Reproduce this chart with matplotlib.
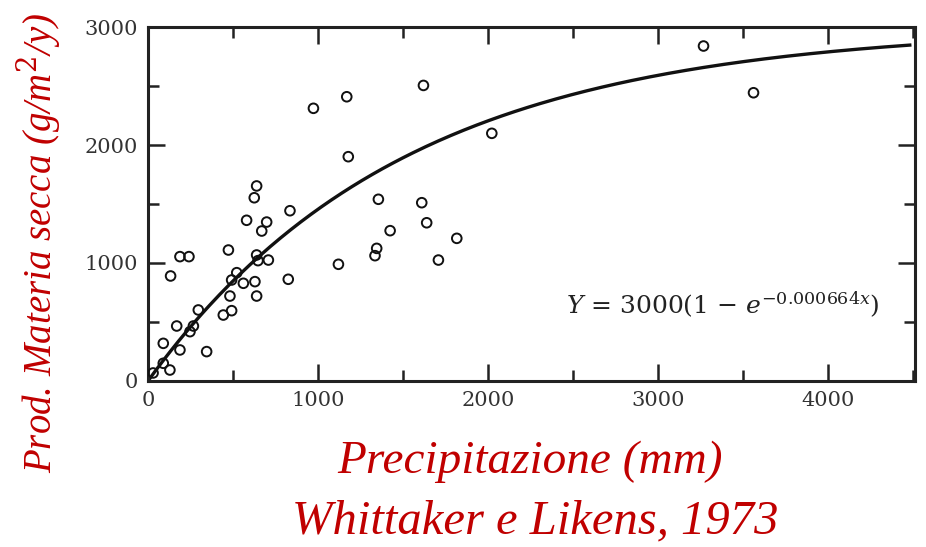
import numpy as np
import matplotlib
matplotlib.use('Agg')
import matplotlib.pyplot as plt

# precipitazione (mm) vs produzione (g/m2/y)
precip = [1620, 1169, 973, 2022, 1178, 639, 625, 835, 1355, 1610,
          580, 698, 669, 1639, 1424, 1816, 1345, 1335, 473, 188,
          241, 1120, 1708, 639, 708, 647, 133, 825, 522, 492,
          561, 629, 639, 482, 443, 492, 296, 169, 267, 247,
          345, 90, 188, 90, 129, 30, 3267, 3561]
prod = [2505, 2409, 2311, 2099, 1901, 1653, 1553, 1443, 1540, 1511,
        1362, 1347, 1271, 1341, 1274, 1209, 1124, 1062, 1110, 1054,
        1054, 989, 1025, 1068, 1025, 1020, 890, 862, 918, 856,
        828, 842, 720, 720, 559, 596, 602, 466, 466, 418,
        249, 319, 263, 150, 93, 68, 2839, 2443]

a_max = 3000
k = 0.000664
x_ticks = [0, 1000, 2000, 3000, 4000]
y_ticks = [0, 1000, 2000, 3000]

red = '#c00000'
plt.rcParams['mathtext.fontset'] = 'dejavuserif'

fig = plt.figure(figsize=(9.26, 5.47), dpi=100)
ax = fig.add_axes([0.1598, 0.3035, 0.8282, 0.6471])

ax.scatter(precip, prod, s=48, facecolors='none', edgecolors='#111111', linewidths=1.4, zorder=3)

xc = np.linspace(0, 4480, 300)
ax.plot(xc, a_max * (1 - np.exp(-k * xc)), color='#111111', lw=2.4)

ax.set_xlim(0, 4510)
ax.set_ylim(0, 3000)
ax.set_xticks(x_ticks)
ax.set_yticks(y_ticks)
ax.set_xticks(np.arange(0, 4501, 500), minor=True)
ax.set_yticks(np.arange(0, 3001, 500), minor=True)
ax.tick_params(which='both', direction='in', top=True, right=True, width=1.8, color='#222222')
ax.tick_params(which='major', length=12, labelsize=15, labelcolor='#333333', pad=7)
ax.tick_params(which='minor', length=8)
for lab in ax.get_xticklabels() + ax.get_yticklabels():
    lab.set_fontfamily('DejaVu Serif')
for s in ax.spines.values():
    s.set_linewidth(2.2)
    s.set_color('#222222')

ax.text(0.954, 0.215, r'$Y$ = 3000(1 $-$ $e^{-0.000664x}$)', transform=ax.transAxes,
        ha='right', va='center', fontsize=18, family='DejaVu Serif', color='#222222')

fig.text(0.041, 0.556, 'Prod. Materia secca (g/m$^2$/y)', rotation=90, ha='center', va='center',
         fontsize=28, style='italic', family='Liberation Serif', color=red)
fig.text(0.572, 0.155, 'Precipitazione (mm)', ha='center', va='center',
         fontsize=34, style='italic', family='Liberation Serif', color=red)
fig.text(0.578, 0.046, 'Whittaker e Likens, 1973', ha='center', va='center',
         fontsize=35, style='italic', family='Liberation Serif', color=red)

fig.savefig('out.png', dpi=100)
